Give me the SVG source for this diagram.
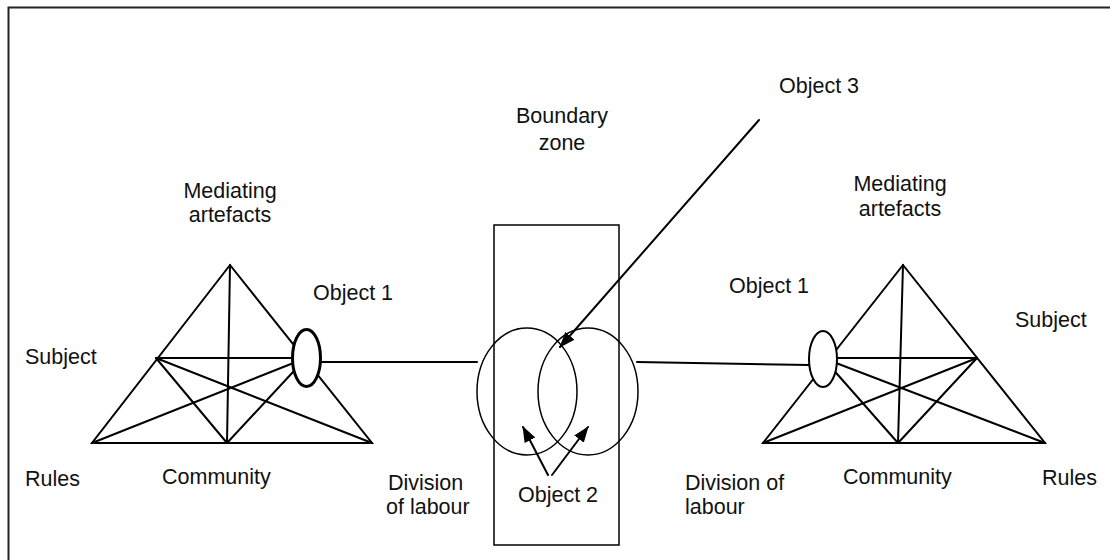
<svg xmlns="http://www.w3.org/2000/svg" width="1110" height="560" viewBox="0 0 1110 560">
  <style>
    text { font-family: "Liberation Sans", Arial, sans-serif; font-size: 21.5px; fill: #111; }
    .ln { stroke: #000; stroke-width: 2; fill: none; stroke-linecap: round; }
    .thin { stroke: #000; stroke-width: 1.5; fill: none; }
    .obj { stroke: #000; fill: #fff; }
    .mid { text-anchor: middle; }
  </style>
  <defs>
    <marker id="arrow" viewBox="0 0 16 12" refX="15" refY="6" markerWidth="16" markerHeight="12" markerUnits="userSpaceOnUse" orient="auto">
      <path d="M0,0 L16,6 L0,12 Z" fill="#000"/>
    </marker>
  </defs>

  <rect x="8.5" y="7.5" width="1110" height="560" fill="none" stroke="#222" stroke-width="2"/>

  <!-- left activity system -->
  <g id="system-left">
    <g class="ln">
      <polygon points="230,265 92,443 372,443"/>
      <line x1="230" y1="265" x2="227" y2="443"/>
      <line x1="156" y1="358" x2="306" y2="358"/>
      <line x1="156" y1="358" x2="372" y2="443"/>
      <line x1="156" y1="358" x2="227" y2="443"/>
      <line x1="92" y1="443" x2="306" y2="358"/>
      <line x1="227" y1="443" x2="306" y2="358"/>
    </g>
    <ellipse id="object1-left" class="obj" cx="306.5" cy="358" rx="14" ry="28.5" stroke-width="3"/>
    <text x="230" y="198" class="mid">Mediating</text>
    <text x="230" y="222" class="mid">artefacts</text>
    <text x="25" y="364">Subject</text>
    <text x="313" y="300">Object 1</text>
    <text x="25" y="486">Rules</text>
    <text x="162" y="484">Community</text>
    <text x="388" y="490">Division</text>
    <text x="386" y="514">of labour</text>
  </g>

  <!-- right activity system -->
  <g id="system-right">
    <g class="ln">
      <polygon points="903,265 763,443 1045,443"/>
      <line x1="903" y1="265" x2="898" y2="443"/>
      <line x1="823" y1="358" x2="977" y2="358"/>
      <line x1="977" y1="358" x2="763" y2="443"/>
      <line x1="977" y1="358" x2="898" y2="443"/>
      <line x1="823" y1="358" x2="1045" y2="443"/>
      <line x1="823" y1="358" x2="898" y2="443"/>
    </g>
    <ellipse id="object1-right" class="obj" cx="823" cy="359" rx="14" ry="28" stroke-width="2"/>
    <text x="900" y="191" class="mid">Mediating</text>
    <text x="900" y="216" class="mid">artefacts</text>
    <text x="1015" y="327">Subject</text>
    <text x="729" y="293">Object 1</text>
    <text x="1042" y="485">Rules</text>
    <text x="843" y="484">Community</text>
    <text x="685" y="490">Division of</text>
    <text x="685" y="514">labour</text>
  </g>

  <!-- boundary zone with the two overlapping objects -->
  <g id="boundary-zone">
    <rect x="494" y="225" width="125" height="320" class="thin"/>
    <ellipse cx="527" cy="391.5" rx="50" ry="63.5" class="thin"/>
    <ellipse cx="588" cy="391.5" rx="50" ry="63.5" class="thin"/>
    <text x="562" y="123" class="mid">Boundary</text>
    <text x="562" y="150" class="mid">zone</text>
    <text x="518" y="502">Object 2</text>
    <text x="779" y="93">Object 3</text>
  </g>

  <!-- connectors -->
  <g id="connectors">
    <line class="ln" x1="321" y1="362" x2="477" y2="362"/>
    <line class="ln" x1="637" y1="362" x2="809" y2="365"/>
    <line class="ln" x1="759" y1="120" x2="560" y2="347" marker-end="url(#arrow)"/>
    <line class="ln" x1="548" y1="475" x2="523" y2="427" marker-end="url(#arrow)"/>
    <line class="ln" x1="552" y1="475" x2="588" y2="427" marker-end="url(#arrow)"/>
  </g>
</svg>
